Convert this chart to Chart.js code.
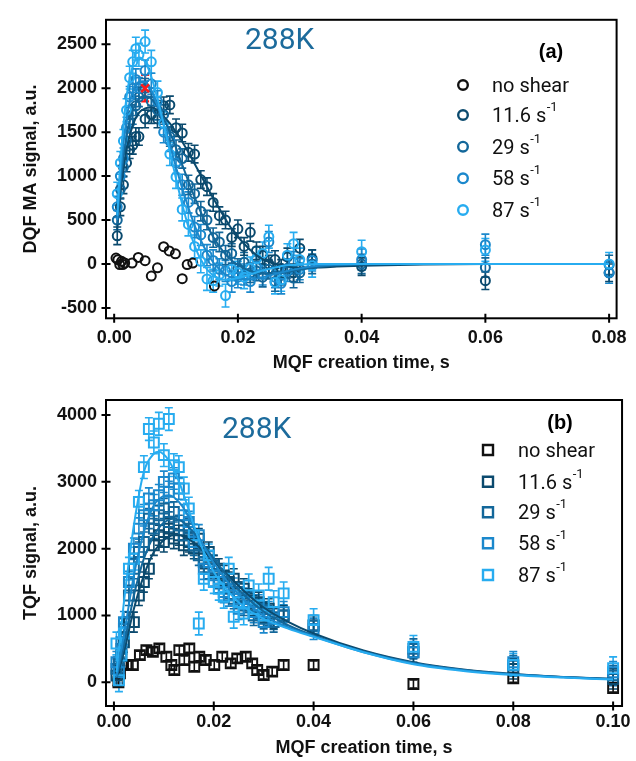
<!DOCTYPE html>
<html><head><meta charset="utf-8">
<script src="https://cdn.jsdelivr.net/npm/chart.js@4.4.1/dist/chart.umd.min.js"></script>
<style>
html,body{margin:0;padding:0;background:#fff;}
#wa{position:absolute;left:0;top:0;width:636px;height:380px;}
#wb{position:absolute;left:0;top:380px;width:636px;height:381px;}
</style></head><body>
<div id="wa"><canvas id="ca"></canvas></div>
<div id="wb"><canvas id="cb"></canvas></div>
<script>
// ---------- panel (a): DQF ----------
const xTicksA = [0, 0.02, 0.04, 0.06, 0.08];
const yTicksA = [-500, 0, 500, 1000, 1500, 2000, 2500];
const tA = [0.0005,0.001,0.0015,0.002,0.0025,0.003,0.0035,0.004,0.005,0.006,0.007,0.008,0.009,0.010,0.011,0.012,0.013,0.014,0.015,0.016,0.017,0.018,0.019,0.020,0.021,0.022,0.023,0.024,0.025,0.026,0.027,0.028,0.029,0.030,0.032,0.040,0.060,0.080];
const dqf87 = [800,1150,1400,1750,2120,2300,2450,2380,2530,2300,1950,1600,1250,990,620,450,200,30,-170,-190,-120,-360,-60,-100,-150,-50,60,120,310,-210,-180,100,230,50,-20,140,160,0];
const dqf58 = [650,1000,1200,1550,1900,2000,2100,2000,2200,2050,1850,1500,1400,1150,900,700,420,330,100,40,-60,-80,-200,-150,-120,-200,-30,-120,250,-150,-220,-80,20,-60,40,50,220,-100];
const dqf29 = [500,850,1100,1400,1600,1700,1800,1900,2000,1850,1750,1700,1450,1300,1200,900,800,600,500,300,250,100,120,-50,20,-100,-80,-150,-60,-200,-130,-50,-160,-100,0,0,-40,-10];
const dqf11 = [320,650,900,1150,1300,1350,1450,1450,1650,1700,1650,1800,1810,1550,1490,1270,1250,960,880,700,550,500,300,400,200,360,150,100,0,50,-50,80,-100,180,60,-30,-190,-100];
const tA0 = [0.0003,0.0006,0.0009,0.0012,0.0014,0.0017,0.0029,0.0039,0.005,0.006,0.007,0.008,0.0089,0.0099,0.011,0.0118,0.0127,0.0162];
const dqf0 = [67,49,-7,30,-7,11,11,74,37,-137,-44,197,149,115,-167,-7,11,-250];
const errA = [100, 110, 120, 130]; // 11.6, 29, 58, 87
const redT = [0.005], redV = [2000], redErr = [150];
// fitted curves
const fitTA = [0.0005,0.001,0.002,0.003,0.004,0.005,0.006,0.007,0.008,0.009,0.010,0.011,0.012,0.013,0.014,0.015,0.016,0.017,0.018,0.019,0.020,0.022,0.024,0.026,0.028,0.030,0.033,0.036,0.040,0.050,0.060,0.080];
const fit87A = [550,1150,1900,2250,2350,2300,2130,1880,1590,1280,970,680,420,210,50,-60,-130,-165,-180,-175,-160,-120,-75,-40,-15,-5,0,0,0,0,0,0];
const fit58A = [500,1000,1650,1960,2070,2070,1970,1800,1590,1350,1100,860,640,440,270,130,20,-60,-120,-155,-175,-175,-150,-115,-80,-50,-20,-8,0,0,0,0];
const fit29A = [450,900,1450,1750,1880,1910,1880,1790,1660,1500,1320,1130,940,760,590,440,310,200,110,40,-10,-80,-110,-110,-90,-65,-35,-15,-5,0,0,0];
const fit11A = [400,800,1300,1580,1720,1770,1780,1750,1680,1600,1500,1390,1270,1140,1010,880,750,630,510,400,310,160,55,0,-30,-40,-40,-30,-20,-5,0,0];

// ---------- panel (b): TQF ----------
const xTicksB = [0, 0.02, 0.04, 0.06, 0.08, 0.10];
const yTicksB = [0, 1000, 2000, 3000, 4000];
const tB = [0.0005,0.001,0.0015,0.002,0.003,0.004,0.005,0.006,0.007,0.008,0.009,0.010,0.011,0.012,0.013,0.014,0.015,0.016,0.017,0.018,0.019,0.020,0.021,0.022,0.023,0.024,0.025,0.026,0.027,0.028,0.029,0.030,0.031,0.032,0.034,0.040,0.060,0.080,0.100];
const tqf87 = [580,30,400,730,1700,1850,2700,3220,3790,3590,3870,3400,3940,3250,3220,2900,2600,2200,880,1550,1900,1500,1400,1280,1700,980,1200,1030,1450,1100,1300,1000,1550,1200,1330,930,530,260,210];
const tqf58 = [300,150,600,900,1500,2000,2300,2500,2750,2650,2800,3000,2850,3050,2900,2500,2400,2100,2200,1700,1800,1600,1500,1350,1300,1400,1100,1250,1200,1050,1150,900,1050,950,1050,800,450,300,150];
const tqf29 = [200,300,500,800,1300,1700,1950,2100,2450,2300,2500,2600,2400,2550,2350,2200,2300,2050,1900,1800,1700,1750,1550,1500,1400,1250,1350,1150,1200,1000,1100,950,1000,900,1000,850,500,250,100];
const tqf11 = [100,200,400,600,900,900,1300,1500,1700,2050,2200,2100,2300,2150,2200,2050,2100,2000,2150,1850,1950,1750,1700,1600,1500,1550,1350,1400,1250,1150,1200,1050,1100,950,1000,850,450,200,50];
const tB0 = [0.0009,0.0012,0.0025,0.0038,0.0052,0.0065,0.0078,0.0091,0.0105,0.0115,0.0121,0.0131,0.0141,0.0151,0.0161,0.0171,0.0184,0.0201,0.0217,0.0234,0.0247,0.0264,0.0277,0.0287,0.030,0.0317,0.034,0.040,0.060,0.080,0.100];
const tqf0 = [0,134,258,258,407,482,457,507,382,258,184,482,333,507,233,382,333,258,382,283,358,382,283,184,109,159,258,258,-25,60,-85];
const errB = [150, 150, 160, 170, 60]; // 11.6, 29, 58, 87, no shear
const fitTB = [0.0005,0.002,0.004,0.006,0.008,0.009,0.010,0.011,0.012,0.013,0.014,0.016,0.018,0.020,0.023,0.026,0.030,0.035,0.040,0.050,0.060,0.070,0.080,0.090,0.100];
const fit87B = [150,1200,2350,3150,3420,3450,3410,3320,3180,3010,2800,2350,1950,1650,1350,1130,950,800,680,450,270,170,110,70,40];
const fit58B = [80,700,1600,2250,2650,2740,2790,2800,2770,2700,2600,2320,2040,1790,1480,1240,1000,820,690,450,280,180,115,75,45];
const fit29B = [70,550,1300,1850,2200,2310,2390,2430,2450,2430,2390,2240,2050,1850,1560,1310,1060,850,700,460,290,185,120,80,50];
const fit11B = [60,450,1100,1600,1950,2050,2130,2180,2200,2200,2180,2090,1960,1810,1590,1370,1120,900,730,475,300,190,125,80,50];

const legendNames = ['no shear', '11.6', '29', '58', '87'];
const COL = ['#111111', '#0b4a6e', '#13679a', '#1b88cc', '#27acf0'];
const TEMP = '288K';

const pts = (xs, ys) => xs.map((x, i) => ({x: x, y: ys[i]}));
const BOLD = "'Liberation Sans', Arial, Helvetica, sans-serif";
const LEG = "Roboto, 'Noto Sans', sans-serif";

function fitDs(xs, ys, c) {
  return {data: pts(xs, ys), showLine: true, borderColor: c, borderWidth: 2, pointRadius: 0,
          pointHoverRadius: 0, fill: false, cubicInterpolationMode: 'monotone'};
}
function ptDs(xs, ys, c, style, r, err) {
  return {data: pts(xs, ys), showLine: false, borderColor: c, backgroundColor: 'rgba(0,0,0,0)',
          pointStyle: style, pointRadius: r, pointHoverRadius: r, pointBorderWidth: 2,
          pointBorderColor: c, pointBackgroundColor: 'rgba(0,0,0,0)', err: err};
}

const deco = {
  id: 'deco',
  beforeDatasetsDraw(chart) {
    const ctx = chart.ctx, xs = chart.scales.x, ys = chart.scales.y, a = chart.chartArea;
    ctx.save();
    ctx.beginPath(); ctx.rect(a.left, a.top, a.right - a.left, a.bottom - a.top); ctx.clip();
    chart.data.datasets.forEach(ds => {
      if (!ds.err) return;
      ctx.strokeStyle = ds.borderColor; ctx.lineWidth = ds.errW || 1.6;
      ds.data.forEach(p => {
        const e = ds.err;
        const px = xs.getPixelForValue(p.x);
        const t = ys.getPixelForValue(p.y + e), b = ys.getPixelForValue(p.y - e);
        ctx.beginPath();
        ctx.moveTo(px, t); ctx.lineTo(px, b);
        ctx.moveTo(px - 4, t); ctx.lineTo(px + 4, t);
        ctx.moveTo(px - 4, b); ctx.lineTo(px + 4, b);
        ctx.stroke();
      });
    });
    ctx.restore();
  },
  afterDraw(chart, args, o) {
    const ctx = chart.ctx, xs = chart.scales.x, ys = chart.scales.y, a = chart.chartArea;
    ctx.save();
    ctx.strokeStyle = '#000'; ctx.lineWidth = 2;
    ctx.strokeRect(a.left, a.top, a.right - a.left, a.bottom - a.top);
    ctx.beginPath();
    o.xTicks.forEach(v => { const px = xs.getPixelForValue(v); ctx.moveTo(px, a.bottom - 4.5); ctx.lineTo(px, a.bottom + 4.5); });
    o.yTicks.forEach(v => { const py = ys.getPixelForValue(v); ctx.moveTo(a.left - 4.5, py); ctx.lineTo(a.left + 4.5, py); });
    ctx.stroke();
    // temperature label
    ctx.fillStyle = '#1c6b9c'; ctx.font = "30px " + LEG; ctx.textAlign = 'left'; ctx.textBaseline = 'alphabetic';
    ctx.fillText(TEMP, o.tempX, o.tempY);
    // panel letter
    ctx.fillStyle = '#000'; ctx.font = "bold 20px " + BOLD; ctx.textAlign = 'center'; ctx.textBaseline = 'middle';
    ctx.fillText(o.letter, o.letterX, o.letterY);
    // legend
    legendNames.forEach((name, i) => {
      const y = o.legRows[i];
      ctx.strokeStyle = COL[i]; ctx.lineWidth = 2.4;
      ctx.beginPath();
      if (o.legStyle === 'circle') ctx.arc(o.legMX, y, 4.8, 0, Math.PI * 2);
      else ctx.rect(o.legMX - 5, y - 5, 10, 10);
      ctx.stroke();
      ctx.fillStyle = '#111'; ctx.textAlign = 'left'; ctx.textBaseline = 'alphabetic';
      ctx.font = "20px " + LEG;
      const txt = i === 0 ? name : name + ' s';
      ctx.fillText(txt, o.legTX, y + 7);
      if (i > 0) {
        const w = ctx.measureText(txt).width;
        ctx.font = "13px " + LEG;
        ctx.fillText('-1', o.legTX + w + 0.5, y - 4);
      }
    });
    ctx.restore();
  }
};

function axes(xmin, xmax, ymin, ymax, xt, yt, ytitle, yW, xH, xLabPad, xTitlePad) {
  const tickFont = {family: BOLD, size: 18, weight: 'bold'};
  return {
    x: {type: 'linear', min: xmin, max: xmax,
        grid: {display: false, drawTicks: false}, border: {display: false},
        afterBuildTicks: s => { s.ticks = xt.map(v => ({value: v})); },
        afterFit: s => { s.height = xH; },
        ticks: {font: tickFont, color: '#111', padding: xLabPad, maxRotation: 0, autoSkip: false,
                callback: v => Number(v).toFixed(2)},
        title: {display: true, text: 'MQF creation time, s', font: tickFont, color: '#111',
                padding: {top: 0, bottom: xTitlePad}}},
    y: {type: 'linear', min: ymin, max: ymax,
        grid: {display: false, drawTicks: false}, border: {display: false},
        afterBuildTicks: s => { s.ticks = yt.map(v => ({value: v})); },
        afterFit: s => { s.width = yW; },
        ticks: {font: tickFont, color: '#111', padding: 9, autoSkip: false, callback: v => String(v)},
        title: {display: true, text: ytitle, font: tickFont, color: '#111', padding: {top: 20, bottom: 0}}}
  };
}

const commonOpts = {responsive: true, maintainAspectRatio: false, animation: false, events: [],
  plugins: {legend: {display: false}, tooltip: {enabled: false}}};

new Chart(document.getElementById('ca'), {
  type: 'scatter',
  data: {datasets: [
    {data: pts(redT, redV), showLine: false, borderColor: '#ff1a1a', pointStyle: 'crossRot', pointRadius: 5.5,
     pointBorderWidth: 2.5, pointBorderColor: '#ff1a1a', err: redErr[0], errW: 2.2},
    fitDs(fitTA, fit87A, COL[4]), fitDs(fitTA, fit58A, COL[3]), fitDs(fitTA, fit29A, COL[2]), fitDs(fitTA, fit11A, COL[1]),
    ptDs(tA, dqf87, COL[4], 'circle', 4.5, errA[3]),
    ptDs(tA, dqf58, COL[3], 'circle', 4.5, errA[2]),
    ptDs(tA, dqf29, COL[2], 'circle', 4.5, errA[1]),
    ptDs(tA, dqf11, COL[1], 'circle', 4.5, errA[0]),
    ptDs(tA0, dqf0, COL[0], 'circle', 4.5, 0)
  ]},
  options: Object.assign({}, commonOpts, {
    layout: {padding: {left: 0, top: 12.7, right: 11.7, bottom: 0}},
    scales: axes(-0.00132, 0.08121, -618, 2778, xTicksA, yTicksA, 'DQF MA signal, a.u.', 106, 61.7, 9.2, 6.2),
    plugins: Object.assign({}, commonOpts.plugins, {deco: {xTicks: xTicksA, yTicks: yTicksA,
      tempX: 245, tempY: 48.5, letter: '(a)', letterX: 551, letterY: 52,
      legStyle: 'circle', legMX: 463, legTX: 492, legRows: [85, 115, 146.7, 178.3, 210]}})
  }),
  plugins: [deco]
});

new Chart(document.getElementById('cb'), {
  type: 'scatter',
  data: {datasets: [
    fitDs(fitTB, fit87B, COL[4]), fitDs(fitTB, fit58B, COL[3]), fitDs(fitTB, fit29B, COL[2]), fitDs(fitTB, fit11B, COL[1]),
    ptDs(tB, tqf87, COL[4], 'rect', 7, errB[3]),
    ptDs(tB, tqf58, COL[3], 'rect', 7, errB[2]),
    ptDs(tB, tqf29, COL[2], 'rect', 7, errB[1]),
    ptDs(tB, tqf11, COL[1], 'rect', 7, errB[0]),
    ptDs(tB0, tqf0, COL[0], 'rect', 7, errB[4])
  ]},
  options: Object.assign({}, commonOpts, {
    layout: {padding: {left: 0, top: 20, right: 10, bottom: 0}},
    scales: axes(-0.00159, 0.10179, -355, 4225, xTicksB, yTicksB, 'TQF signal, a.u.', 106, 55, 5.2, 2.2),
    plugins: Object.assign({}, commonOpts.plugins, {deco: {xTicks: xTicksB, yTicks: yTicksB,
      tempX: 222, tempY: 58.3, letter: '(b)', letterX: 560, letterY: 43.3,
      legStyle: 'rect', legMX: 488, legTX: 518, legRows: [70, 101.7, 132.3, 163.3, 195]}})
  }),
  plugins: [deco]
});
</script>
</body></html>
